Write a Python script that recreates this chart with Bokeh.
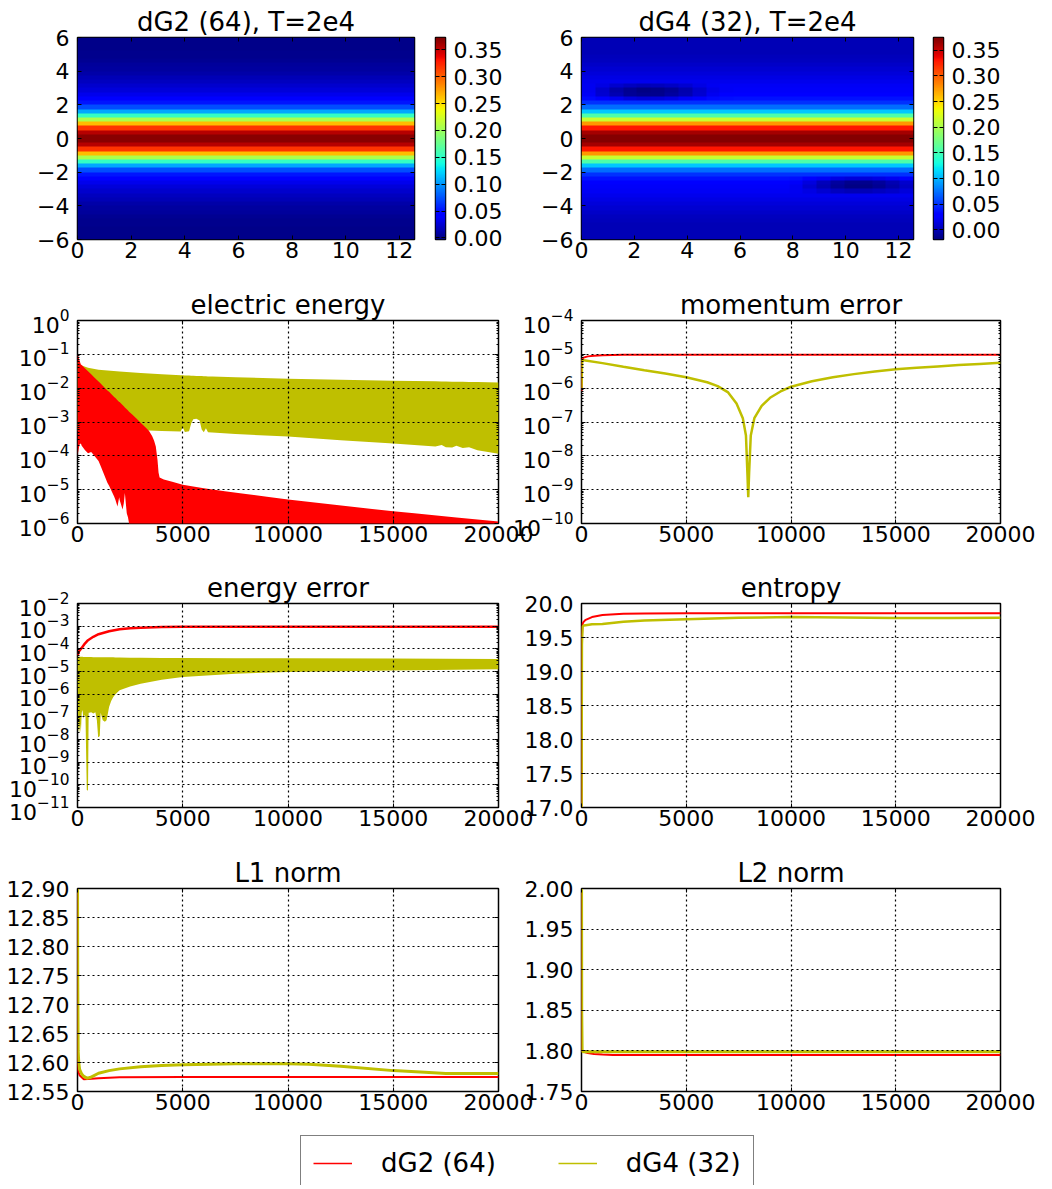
import numpy as np
from bokeh.plotting import figure
from bokeh.models import (Range1d, LinearAxis, LogAxis, FixedTicker, LinearColorMapper,
                          Legend, LegendItem, NumeralTickFormatter, GridBox)
from bokeh.embed import file_html
from bokeh.resources import INLINE

# ---------------- data ----------------
heat_titles = ["dG2 (64), T=2e4", "dG4 (32), T=2e4"]
heat_x_ticks = [0, 2, 4, 6, 8, 10, 12]
heat_y_ticks = [-6, -4, -2, 0, 2, 4, 6]
heat_y_labels = {-6: "\u22126", -4: "\u22124", -2: "\u22122", 0: "0", 2: "2", 4: "4", 6: "6"}
cbar_ticks = [0.0, 0.05, 0.10, 0.15, 0.20, 0.25, 0.30, 0.35]
cbar_range_dg2 = [-0.003, 0.373]
cbar_range_dg4 = [-0.019, 0.375]

# distribution f(x, v) profile along v (cell centres 0.125 .. 5.875, mirrored for v<0)
v_half = [0.125, 0.375, 0.625, 0.875, 1.125, 1.375, 1.625, 1.875, 2.125, 2.375, 2.625, 2.875,
          3.125, 3.375, 3.625, 3.875, 4.125, 4.375, 4.625, 4.875, 5.125, 5.375, 5.625, 5.875]
f_dg2_half = [0.370, 0.355, 0.318, 0.264, 0.206, 0.152, 0.107, 0.073, 0.052, 0.040, 0.033, 0.027,
              0.023, 0.019, 0.015, 0.011, 0.0085, 0.006, 0.004, 0.0025, 0.0015, 0.0008, 0.0003, 0.0001]
f_dg4_half = [0.372, 0.362, 0.330, 0.275, 0.214, 0.156, 0.108, 0.072, 0.050, 0.037, 0.028, 0.024,
              0.022, 0.019, 0.016, 0.012, 0.009, 0.006, 0.004, 0.002, 0.001, 0.0005, 0.0002, 0.0]
# dG4: rows crossing the two dark holes (24 columns across x in [0, 4*pi])
x_cols = [0.26, 0.79, 1.31, 1.83, 2.36, 2.88, 3.40, 3.93, 4.45, 4.97, 5.50, 6.02,
          6.54, 7.07, 7.59, 8.12, 8.64, 9.16, 9.69, 10.21, 10.73, 11.26, 11.78, 12.30]
dg4_hole_rows = {
    2.375: [0.034, 0.028, 0.020, 0.014, 0.011, 0.012, 0.016, 0.022, 0.029, 0.034, 0.036, 0.037,
            0.037, 0.037, 0.037, 0.037, 0.037, 0.037, 0.037, 0.037, 0.037, 0.037, 0.037, 0.037],
    2.625: [0.022, 0.010, -0.002, -0.010, -0.014, -0.013, -0.008, -0.001, 0.010, 0.020, 0.026, 0.028,
            0.028, 0.028, 0.028, 0.028, 0.028, 0.028, 0.028, 0.028, 0.028, 0.028, 0.028, 0.028],
    2.875: [0.020, 0.008, -0.004, -0.012, -0.016, -0.015, -0.010, -0.003, 0.008, 0.017, 0.022, 0.024,
            0.024, 0.024, 0.024, 0.024, 0.024, 0.024, 0.024, 0.024, 0.024, 0.024, 0.024, 0.024],
    3.125: [0.020, 0.015, 0.008, 0.003, 0.001, 0.002, 0.005, 0.010, 0.016, 0.020, 0.022, 0.022,
            0.022, 0.022, 0.022, 0.022, 0.022, 0.022, 0.022, 0.022, 0.022, 0.022, 0.022, 0.022],
    -2.375: [0.037, 0.037, 0.037, 0.037, 0.037, 0.037, 0.037, 0.037, 0.037, 0.037, 0.037, 0.037,
             0.037, 0.037, 0.037, 0.035, 0.030, 0.022, 0.015, 0.012, 0.012, 0.015, 0.020, 0.027],
    -2.625: [0.028, 0.028, 0.028, 0.028, 0.028, 0.028, 0.028, 0.028, 0.028, 0.028, 0.028, 0.028,
             0.028, 0.028, 0.028, 0.024, 0.014, 0.002, -0.008, -0.013, -0.013, -0.009, -0.002, 0.008],
    -2.875: [0.024, 0.024, 0.024, 0.024, 0.024, 0.024, 0.024, 0.024, 0.024, 0.024, 0.024, 0.024,
             0.024, 0.024, 0.024, 0.020, 0.010, -0.002, -0.011, -0.016, -0.016, -0.012, -0.005, 0.005],
    -3.125: [0.022, 0.022, 0.022, 0.022, 0.022, 0.022, 0.022, 0.022, 0.022, 0.022, 0.022, 0.022,
             0.022, 0.022, 0.022, 0.020, 0.016, 0.009, 0.004, 0.001, 0.001, 0.003, 0.007, 0.013],
}

time_ticks = [0, 5000, 10000, 15000, 20000]
series_labels = ["dG2 (64)", "dG4 (32)"]

# electric energy: envelopes of the fast oscillation
ee_t_dg2 = [0, 50, 100, 160, 200, 350, 500, 650, 800, 1000, 1100, 1200, 1420, 1500, 1740, 1800, 1900,
            1980, 2000, 2140, 2200, 2250, 2340, 2400, 2450, 2600, 2800, 3000, 3200, 3400, 3550, 3640,
            3720, 3800, 3850, 3900, 4100, 4500, 5000, 6000, 7000, 8000, 9000, 10000, 12000, 14000,
            15000, 16000, 18000, 20000]
ee_dg2_hi = [0.10, 0.085, 0.065, 0.050, 0.048, 0.039, 0.0316, 0.0257, 0.0208, 0.0157, 0.0137, 0.0118,
             0.0086, 0.0078, 0.0055, 0.0051, 0.0044, 0.0039, 0.0039, 0.0032, 0.0029, 0.0027, 0.0024,
             0.0022, 0.0020, 0.00166, 0.00126, 0.00095, 0.00072, 0.00054, 0.00038, 0.00028, 0.00019,
             7.6e-5, 3.2e-5, 2.3e-5, 2.0e-5, 1.7e-5, 1.4e-5, 1.1e-5, 9e-6, 7.5e-6, 6.2e-6, 5.1e-6,
             3.7e-6, 2.7e-6, 2.3e-6, 2.0e-6, 1.5e-6, 1.15e-6]
ee_dg2_lo = [1.0e-4, 1.5e-4, 2.2e-4, 2.3e-4, 2.0e-4, 1.5e-4, 1.2e-4, 1.3e-4, 1.0e-4, 7e-5, 5e-5, 3.5e-5,
             1.6e-5, 1.3e-5, 6.3e-6, 5e-6, 3.2e-6, 6e-6, 5e-6, 2.6e-6, 4e-6, 8e-6, 2e-6, 1.5e-6, 1e-6,
             1e-8, 1e-8, 1e-8, 1e-8, 1e-8, 1e-8, 1e-8, 1e-8, 1e-8, 1e-8, 1e-8, 1e-8, 1e-8, 1e-8, 1e-8,
             1e-8, 1e-8, 1e-8, 1e-8, 1e-8, 1e-8, 1e-8, 1e-8, 1e-8, 1e-8]
ee_t_dg4 = [0, 100, 200, 500, 1000, 2000, 3000, 3400, 4000, 4900, 5000, 5100, 5300, 5400, 5500, 5650,
            5800, 5900, 6000, 6100, 6200, 6400, 7500, 10000, 12500, 15000, 17000, 17300, 17500, 17800,
            18000, 18300, 18600, 19000, 19500, 20000]
ee_dg4_hi = [0.06, 0.05, 0.047, 0.040, 0.035, 0.031, 0.028, 0.027, 0.026, 0.0242, 0.024, 0.0238, 0.0235,
             0.0234, 0.0233, 0.023, 0.0228, 0.0227, 0.0226, 0.0224, 0.0223, 0.022, 0.021, 0.019, 0.0178,
             0.0166, 0.0159, 0.0158, 0.0157, 0.0156, 0.0155, 0.0154, 0.0153, 0.0152, 0.015, 0.0148]
ee_dg4_lo = [5.5e-4, 5.5e-4, 5.5e-4, 5.5e-4, 5.5e-4, 5.5e-4, 5.5e-4, 5.6e-4, 5.4e-4, 5.2e-4, 7e-4, 5.1e-4,
             5.3e-4, 9e-4, 1.2e-3, 1.25e-3, 1.1e-3, 6e-4, 5e-4, 6.5e-4, 5e-4, 4.9e-4, 4.4e-4, 3.7e-4,
             2.9e-4, 2.3e-4, 1.9e-4, 2.1e-4, 1.8e-4, 1.75e-4, 2.0e-4, 1.7e-4, 1.8e-4, 1.45e-4, 1.3e-4,
             1.15e-4]

# momentum error
me_t_dg2 = [0, 30, 100, 300, 600, 1000, 1500, 2000, 5000, 10000, 15000, 20000]
me_dg2 = [8e-7, 7.2e-6, 8.0e-6, 8.7e-6, 9.1e-6, 9.4e-6, 9.6e-6, 9.7e-6, 9.8e-6, 9.8e-6, 9.8e-6, 9.8e-6]
me_t_dg4 = [0, 30, 1000, 2000, 3000, 4000, 5000, 6000, 6500, 7000, 7400, 7700, 7850, 7920, 7960, 8000,
            8080, 8250, 8600, 9000, 9500, 10000, 11000, 12000, 13000, 14000, 15000, 16000, 17000,
            18000, 19000, 20000]
me_dg4 = [1e-6, 6.8e-6, 5.5e-6, 4.3e-6, 3.4e-6, 2.7e-6, 2.1e-6, 1.5e-6, 1.15e-6, 7.5e-7, 3.5e-7, 1.3e-7,
          4e-8, 3e-9, 6e-10, 3e-9, 4e-8, 1.3e-7, 3e-7, 5.2e-7, 8e-7, 1.1e-6, 1.6e-6, 2.1e-6, 2.6e-6,
          3.1e-6, 3.6e-6, 4.0e-6, 4.4e-6, 4.8e-6, 5.2e-6, 5.6e-6]

# energy error
en_t_dg2 = [0, 50, 100, 200, 350, 500, 750, 1000, 1500, 2000, 2500, 3000, 4000, 5000, 7500, 10000,
            15000, 20000]
en_dg2 = [5e-5, 7e-5, 8.5e-5, 1.1e-4, 1.7e-4, 2.4e-4, 3.4e-4, 4.4e-4, 6e-4, 7.3e-4, 8.1e-4, 8.6e-4,
          9.2e-4, 9.4e-4, 9.5e-4, 9.5e-4, 9.5e-4, 9.5e-4]
en_t_dg4 = [0, 40, 80, 120, 160, 200, 240, 280, 320, 380, 440, 470, 500, 530, 560, 650, 750, 850, 920,
            980, 1020, 1060, 1100, 1200, 1300, 1380, 1450, 1500, 1600, 1700, 1800, 2000, 2500, 3000,
            4000, 5000, 7500, 10000, 15000, 20000]
en_dg4_hi = [4.6e-5, 4.5e-5, 4.5e-5, 4.5e-5, 4.5e-5, 4.5e-5, 4.5e-5, 4.4e-5, 4.4e-5, 4.4e-5, 4.4e-5,
             4.4e-5, 4.4e-5, 4.4e-5, 4.4e-5, 4.4e-5, 4.3e-5, 4.3e-5, 4.3e-5, 4.3e-5, 4.3e-5, 4.3e-5,
             4.3e-5, 4.3e-5, 4.2e-5, 4.2e-5, 4.2e-5, 4.2e-5, 4.2e-5, 4.2e-5, 4.1e-5, 4.1e-5, 4.0e-5,
             4.0e-5, 3.9e-5, 3.9e-5, 3.8e-5, 3.8e-5, 3.7e-5, 3.6e-5]
en_dg4_lo = [4e-6, 3e-8, 2e-8, 5e-8, 2e-8, 1.5e-7, 2e-7, 8e-8, 1.2e-7, 1e-7, 6e-11, 5.5e-11, 6e-11,
             1.5e-7, 1.5e-7, 1.6e-7, 1.4e-7, 1.6e-7, 7e-8, 1.3e-8, 1.3e-8, 1.5e-8, 1.5e-7, 7e-8, 6e-8,
             7e-8, 1.5e-7, 2.7e-7, 5e-7, 7.5e-7, 1e-6, 1.5e-6, 2.2e-6, 2.9e-6, 4.3e-6, 5.7e-6, 8e-6,
             9.5e-6, 1.1e-5, 1.25e-5]

# entropy
s_t_dg2 = [0, 20, 50, 100, 200, 500, 1000, 2000, 3000, 5000, 10000, 15000, 20000]
s_dg2 = [16.5, 19.5, 19.70, 19.73, 19.76, 19.80, 19.83, 19.85, 19.853, 19.855, 19.856, 19.856, 19.856]
s_t_dg4 = [0, 20, 50, 100, 200, 500, 1000, 2000, 3000, 5000, 7500, 10000, 12500, 15000, 17500, 20000]
s_dg4 = [16.5, 19.4, 19.66, 19.675, 19.68, 19.695, 19.70, 19.73, 19.75, 19.77, 19.79, 19.80, 19.795,
         19.785, 19.785, 19.79]

# L1 norm
l1_t_dg2 = [0, 10, 30, 100, 300, 500, 1000, 2000, 5000, 10000, 15000, 20000]
l1_dg2 = [12.95, 12.60, 12.585, 12.578, 12.571, 12.5715, 12.573, 12.5745, 12.575, 12.575, 12.575, 12.575]
l1_t_dg4 = [0, 10, 30, 60, 100, 200, 300, 450, 600, 1000, 1500, 2000, 3000, 4000, 5000, 7500, 10000,
            11000, 12500, 15000, 16500, 17500, 20000]
l1_dg4 = [12.95, 12.75, 12.62, 12.600, 12.588, 12.58, 12.576, 12.573, 12.574, 12.5815, 12.586, 12.589,
          12.5925, 12.5947, 12.596, 12.598, 12.598, 12.597, 12.5935, 12.586, 12.583, 12.581, 12.581]

# L2 norm
l2_t_dg2 = [0, 10, 30, 100, 300, 600, 1000, 1500, 2000, 5000, 10000, 20000]
l2_dg2 = [2.05, 1.81, 1.7995, 1.799, 1.7975, 1.7962, 1.7955, 1.7951, 1.795, 1.795, 1.795, 1.795]
l2_t_dg4 = [0, 10, 30, 100, 1000, 5000, 10000, 20000]
l2_dg4 = [2.05, 1.85, 1.7995, 1.799, 1.7988, 1.7988, 1.7988, 1.7988]

# ---------------- styling helpers ----------------
FONT = "DejaVu Sans"
RED = "#ff0000"
YEL = "#bfbf00"
TICK_FS = "22px"
TITLE_FS = "26px"


def jet_palette(n=256):
    t = np.linspace(0, 1, n)
    r = np.interp(t, [0, 0.35, 0.66, 0.89, 1], [0, 0, 1, 1, 0.5])
    g = np.interp(t, [0, 0.125, 0.375, 0.64, 0.91, 1], [0, 0, 1, 1, 0, 0])
    b = np.interp(t, [0, 0.11, 0.34, 0.65, 1], [0.5, 1, 1, 0, 0])
    return ["#%02x%02x%02x" % (int(round(255 * a)), int(round(255 * c)), int(round(255 * d)))
            for a, c, d in zip(r, g, b)]


JET = jet_palette()


def style_axis(ax, labels=True, standoff=8):
    ax.axis_line_color = None
    ax.major_tick_in = 4
    ax.major_tick_out = 0
    ax.minor_tick_in = 2
    ax.minor_tick_out = 0
    ax.major_tick_line_color = "black"
    ax.minor_tick_line_color = "black"
    ax.major_tick_line_width = 1
    ax.minor_tick_line_width = 1
    ax.major_label_text_font = FONT
    if labels:
        ax.major_label_text_color = "black"
        ax.major_label_text_font_size = TICK_FS
        ax.major_label_standoff = standoff
    else:
        ax.major_label_text_color = None
        ax.major_label_text_font_size = "0px"
        ax.major_label_standoff = 0


def base_fig(width, height, bl, br, bt, bb, x_range, y_range, y_log=False, title=None, **kw):
    p = figure(width=width, height=height, x_range=x_range, y_range=y_range,
               y_axis_type="log" if y_log else "linear",
               output_backend="svg", toolbar_location=None,
               min_border_left=bl, min_border_right=br, min_border_top=bt, min_border_bottom=bb,
               title=title, **kw)
    p.frame_align = False
    p.outline_line_color = "black"
    p.outline_line_width = 1.5
    p.background_fill_color = "white"
    p.border_fill_color = "white"
    if title:
        p.title.text_font = FONT
        p.title.text_font_size = TITLE_FS
        p.title.text_font_style = "normal"
        p.title.text_color = "black"
        p.title.align = "center"
        p.title.standoff = 2
    return p


def frame_axes(p, xt, yt, y_log=False, yfmt=None, ylabels=None):
    p.xaxis.ticker = xt
    p.yaxis.ticker = yt
    if yfmt is not None:
        p.yaxis.formatter = yfmt
    if ylabels is not None:
        p.yaxis.major_label_overrides = ylabels
    top = LinearAxis(ticker=xt)
    right = LogAxis(ticker=yt) if y_log else LinearAxis(ticker=yt)
    p.add_layout(top, "above")
    p.add_layout(right, "right")
    for ax in p.below:
        style_axis(ax, True, 2)
    for ax in p.left:
        style_axis(ax, True, 8)
    for ax in (top, right):
        style_axis(ax, False)


def heat_fig(title, img, rng, width, bl, br):
    p = base_fig(width, 280, bl, br, 37, 41, Range1d(0, 4 * np.pi), Range1d(-6, 6), title=title)
    mapper = LinearColorMapper(palette=JET, low=rng[0], high=rng[1])
    p.image(image=[img], x=0, y=-6, dw=4 * np.pi, dh=12, color_mapper=mapper)
    frame_axes(p, FixedTicker(ticks=heat_x_ticks), FixedTicker(ticks=heat_y_ticks), ylabels=heat_y_labels)
    p.grid.visible = False
    return p, mapper


def cbar_fig(mapper, rng, width, bl, br):
    p = figure(width=width, height=280, x_range=Range1d(0, 1), y_range=Range1d(rng[0], rng[1]),
               output_backend="svg", toolbar_location=None, x_axis_location=None,
               y_axis_location="right", min_border_left=bl, min_border_right=br,
               min_border_top=37, min_border_bottom=41)
    p.frame_align = False
    p.outline_line_color = "black"
    p.outline_line_width = 1.5
    grad = np.linspace(rng[0], rng[1], 256).reshape(256, 1)
    p.image(image=[grad], x=0, y=rng[0], dw=1, dh=rng[1] - rng[0], color_mapper=mapper)
    yt = FixedTicker(ticks=cbar_ticks)
    p.yaxis.ticker = yt
    p.yaxis.formatter = NumeralTickFormatter(format="0.00")
    left = LinearAxis(ticker=yt)
    p.add_layout(left, "left")
    style_axis(p.right[0], True, 8)
    style_axis(left, False)
    p.grid.visible = False
    return p


def log_ticker(lo, hi):
    return FixedTicker(ticks=[10.0 ** k for k in range(lo, hi + 1)],
                       minor_ticks=[m * 10.0 ** k for k in range(lo, hi) for m in range(2, 10)])


def line_fig(title, width, height, bl, br, bt, bb, y_lo, y_hi, y_log, yt, yfmt=None):
    p = base_fig(width, height, bl, br, bt, bb, Range1d(0, 20000), Range1d(y_lo, y_hi), y_log, title)
    xt = FixedTicker(ticks=time_ticks)
    frame_axes(p, xt, yt, y_log, yfmt)
    p.xgrid.ticker = xt
    p.ygrid.ticker = yt
    for g in p.grid:
        g.grid_line_color = "black"
        g.grid_line_dash = "2 3"
        g.grid_line_width = 1.2
        g.level = "annotation"
    return p


# ---------------- heat maps ----------------
def full(half):
    return list(reversed(half)) + list(half)


NX = len(x_cols)
nh = len(v_half)
img_dg2 = np.tile(np.array(full(f_dg2_half))[:, None], (1, NX))
img_dg4 = np.tile(np.array(full(f_dg4_half))[:, None], (1, NX))
for vv, vals in dg4_hole_rows.items():
    k = v_half.index(abs(vv))
    idx = nh + k if vv > 0 else nh - 1 - k
    img_dg4[idx, :] = vals

hmL, mapL = heat_fig(heat_titles[0], img_dg2, cbar_range_dg2, 425, 77, 11)
cbL = cbar_fig(mapL, cbar_range_dg2, 105, 10, 85)
hmR, mapR = heat_fig(heat_titles[1], img_dg4, cbar_range_dg4, 393, 51, 10)
cbR = cbar_fig(mapR, cbar_range_dg4, 129, 10, 109)

# ---------------- line panels ----------------
LW, RW = 534, 546
LBL, LBR = 77, 36
RBL, RBR = 75, 52

eeF = line_fig("electric energy", LW, 283, LBL, LBR, 40, 40, 1e-6, 1.0, True, log_ticker(-6, 0))
eeF.varea(x=ee_t_dg4, y1=ee_dg4_lo, y2=ee_dg4_hi, fill_color=YEL)
eeF.varea(x=ee_t_dg2, y1=ee_dg2_lo, y2=ee_dg2_hi, fill_color=RED)

meF = line_fig("momentum error", RW, 283, RBL, RBR, 40, 40, 1e-10, 1e-4, True, log_ticker(-10, -4))
meF.line(me_t_dg2, me_dg2, line_color=RED, line_width=2)
meF.line(me_t_dg4, me_dg4, line_color=YEL, line_width=2.5)

enF = line_fig("energy error", LW, 285, LBL, LBR, 40, 41, 1e-11, 1e-2, True, log_ticker(-11, -2))
enF.varea(x=en_t_dg4, y1=en_dg4_lo, y2=en_dg4_hi, fill_color=YEL)
enF.line(en_t_dg2, en_dg2, line_color=RED, line_width=2.5)

sF = line_fig("entropy", RW, 285, RBL, RBR, 40, 41, 17.0, 20.0, False,
              FixedTicker(ticks=[17.0, 17.5, 18.0, 18.5, 19.0, 19.5, 20.0]), NumeralTickFormatter(format="0.0"))
sF.line(s_t_dg2, s_dg2, line_color=RED, line_width=2)
sF.line(s_t_dg4, s_dg4, line_color=YEL, line_width=2.5)

l1F = line_fig("L1 norm", LW, 277, LBL, LBR, 40, 34, 12.55, 12.90, False,
               FixedTicker(ticks=[12.55, 12.60, 12.65, 12.70, 12.75, 12.80, 12.85, 12.90]),
               NumeralTickFormatter(format="0.00"))
l1F.line(l1_t_dg2, l1_dg2, line_color=RED, line_width=2)
l1F.line(l1_t_dg4, l1_dg4, line_color=YEL, line_width=3)

l2F = line_fig("L2 norm", RW, 277, RBL, RBR, 40, 34, 1.75, 2.00, False,
               FixedTicker(ticks=[1.75, 1.80, 1.85, 1.90, 1.95, 2.00]),
               NumeralTickFormatter(format="0.00"))
l2F.line(l2_t_dg2, l2_dg2, line_color=RED, line_width=2)
l2F.line(l2_t_dg4, l2_dg4, line_color=YEL, line_width=3)

for f in (meF, sF, l2F):
    f.border_fill_alpha = 0

# ---------------- legend ----------------
legF = figure(width=1052, height=60, x_range=Range1d(-2, -1), y_range=Range1d(0, 1),
              output_backend="svg", toolbar_location=None, x_axis_location=None, y_axis_location=None,
              min_border=0)
legF.frame_align = False
legF.outline_line_color = None
legF.grid.visible = False
r1 = legF.line(l2_t_dg2, l2_dg2, line_color=RED, line_width=1.5)
r2 = legF.line(l2_t_dg4, l2_dg4, line_color=YEL, line_width=1.5)
legend = Legend(items=[LegendItem(label=series_labels[0], renderers=[r1]),
                       LegendItem(label=series_labels[1], renderers=[r2])],
                orientation="horizontal", location=(300, -6),
                label_text_font=FONT, label_text_font_size=TITLE_FS, label_text_color="black",
                glyph_width=39, glyph_height=20, label_standoff=29, spacing=62, padding=12, margin=0,
                border_line_color="black", border_line_width=1.5,
                background_fill_color="white", background_fill_alpha=1.0)
legF.add_layout(legend, "center")

grid = GridBox(children=[(hmL, 0, 0, 1, 1), (cbL, 0, 1, 1, 2), (hmR, 0, 3, 1, 2), (cbR, 0, 5, 1, 1),
                         (eeF, 1, 0, 1, 4), (meF, 1, 2, 1, 4),
                         (enF, 2, 0, 1, 4), (sF, 2, 2, 1, 4),
                         (l1F, 3, 0, 1, 4), (l2F, 3, 2, 1, 4),
                         (legF, 4, 0, 1, 6)],
               rows=["280px", "283px", "285px", "277px", "60px"],
               cols=["425px", "81px", "24px", "4px", "389px", "129px"],
               spacing=0)

with open("out.html", "w") as fh:
    fh.write(file_html(grid, INLINE))
